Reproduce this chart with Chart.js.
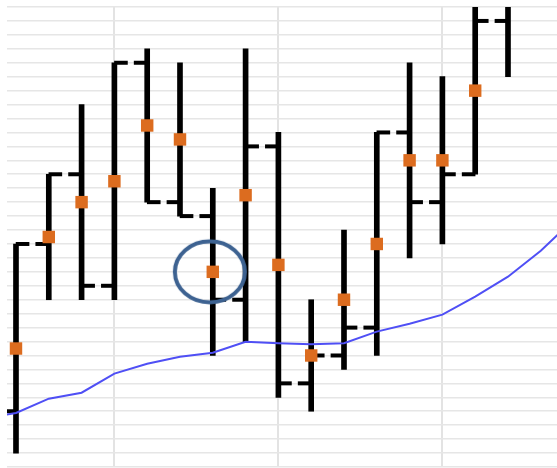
<!DOCTYPE html>
<html>
<head>
<meta charset="utf-8">
<script src="https://cdn.jsdelivr.net/npm/chart.js@4"></script>
<style>
  html, body { margin: 0; padding: 0; background: #ffffff; overflow: hidden; }
  canvas { display: block; }
</style>
</head>
<body>
<canvas id="c" width="557" height="468"></canvas>
<script>
// ---- data (price units = one horizontal gridline each) ----
const barIndex  = [0, 1, 2, 3, 4, 5, 6, 7, 8, 9, 10, 11, 12, 13, 14, 15];
const openVals  = [14, 26, 31, 23, 39, 29, 28, 22, 33, 16, 18, 20, 34, 29, 31, 42];
const highVals  = [26, 31, 36, 39, 40, 39, 30, 40, 34, 22, 27, 34, 39, 38, 43, 50];
const lowVals   = [11, 22, 22, 22, 29, 28, 18, 19, 15, 14, 17, 18, 25, 26, 31, 38];
const closeVals = [26, 31, 23, 39, 29, 28, 22, 33, 16, 18, 20, 34, 29, 31, 42, 47];
const midVals   = [18.5, 26.5, 29, 30.5, 34.5, 33.5, 24, 29.5, 24.5, 18, 22, 26, 32, 32, 37, 44];

const maIndex = [-1, 0, 1, 2, 3, 4, 5, 6, 7, 8, 9, 10, 11, 12, 13, 14, 15, 16, 17];
const maVals  = [13.45, 13.88, 14.9, 15.33, 16.7, 17.41, 17.91, 18.2, 18.99, 18.88, 18.81, 18.88, 19.71, 20.28, 20.93, 22.22, 23.65, 25.52, 27.74];

const highlightIndex = 6;          // the circled bar
const verticalGridAt = [3, 8, 13]; // x tick positions (vertical gridlines)
const yMin = 10, yMax = 43;
const xMin = -0.274, xMax = 16.494;

// ---- styles ----
const tickOffset = 0.2;   // open/close tick centre offset in category units
const ringCanvas = (() => {
  const cv = document.createElement('canvas');
  cv.width = 80; cv.height = 72;
  const g = cv.getContext('2d');
  g.strokeStyle = '#3D6291';
  g.lineWidth = 4;
  g.beginPath();
  g.ellipse(40, 36, 35, 30.5, 0, 0, Math.PI * 2);
  g.stroke();
  return cv;
})();

const rangeData = barIndex.map((x, i) => ({ x: x, y: [lowVals[i], highVals[i]] }));
const openData  = barIndex.map((x, i) => ({ x: x - tickOffset, y: openVals[i] }));
const closeData = barIndex.map((x, i) => ({ x: x + tickOffset, y: closeVals[i] }));
const midData   = barIndex.map((x, i) => ({ x: x, y: midVals[i] }));
const maData    = maIndex.map((x, i) => ({ x: x, y: maVals[i] }));
const ringData  = [{ x: barIndex[highlightIndex] - 0.09, y: midVals[highlightIndex] }];

new Chart(document.getElementById('c'), {
  type: 'bar',
  data: {
    datasets: [
      {
        type: 'bar', data: rangeData, backgroundColor: '#000000',
        borderWidth: 0, barThickness: 5, order: 5, clip: 0
      },
      {
        type: 'scatter', data: openData, pointStyle: 'line', pointRadius: 6.8,
        borderColor: '#000000', borderWidth: 4, order: 4, clip: 0
      },
      {
        type: 'scatter', data: closeData, pointStyle: 'line', pointRadius: 6.8,
        borderColor: '#000000', borderWidth: 4, order: 4, clip: 0
      },
      {
        type: 'line', data: maData, borderColor: '#4F4FF5', borderWidth: 2,
        pointRadius: 0, tension: 0, fill: false, order: 3, clip: 0
      },
      {
        type: 'scatter', data: midData, pointStyle: 'rect', pointRadius: 8.8,
        backgroundColor: '#DC6C1F', borderWidth: 0, order: 2, clip: 0
      },
      {
        type: 'scatter', data: ringData, pointStyle: ringCanvas, pointRadius: 36,
        order: 1, clip: 0
      }
    ]
  },
  options: {
    responsive: false,
    animation: false,
    devicePixelRatio: 1,
    layout: { autoPadding: false, padding: { left: 7, top: 7, right: 0, bottom: 1 } },
    plugins: { legend: { display: false }, tooltip: { enabled: false } },
    events: [],
    scales: {
      x: {
        type: 'linear', min: xMin, max: xMax, offset: false,
        afterBuildTicks: axis => { axis.ticks = verticalGridAt.map(v => ({ value: v })); },
        ticks: { display: false },
        grid: { color: '#e3e3e3', lineWidth: 2, drawTicks: false, offset: false },
        border: { display: false }
      },
      y: {
        type: 'linear', min: yMin, max: yMax,
        ticks: { display: false, stepSize: 1 },
        grid: { color: '#e6e6e6', lineWidth: 1.6, drawTicks: false },
        border: { display: false }
      }
    }
  }
});
</script>
</body>
</html>
